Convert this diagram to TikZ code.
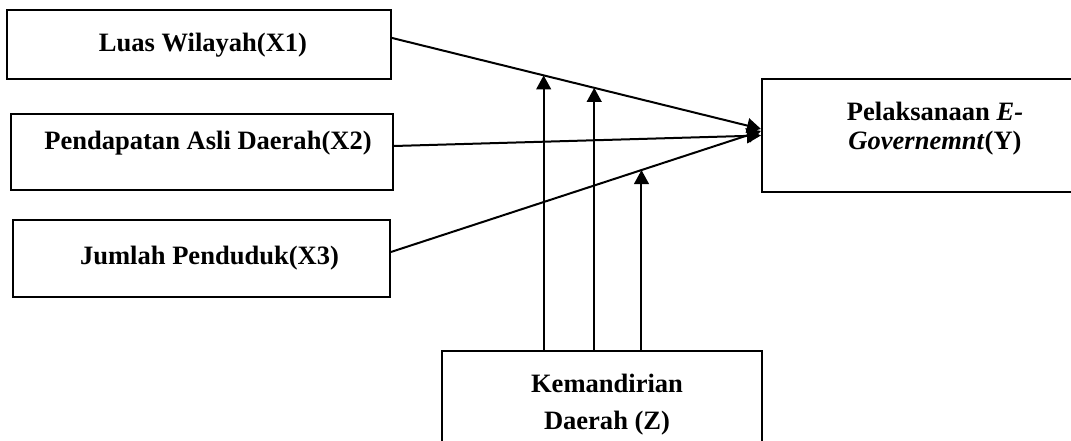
\documentclass[tikz,border=0pt]{standalone}
\usepackage{fontspec}
\setmainfont{Liberation Serif}
\usetikzlibrary{arrows.meta,calc}
\begin{document}
\begin{tikzpicture}[x=0.75pt,y=-0.75pt,
  box/.style={draw, line width=1.5pt, inner sep=0pt},
  lbl/.style={font=\fontsize{19.9}{22}\selectfont\bfseries, align=center, inner sep=0pt},
  arr/.style={line width=1.5pt, -{Triangle[length=10.5pt,width=11pt]}}]
\useasboundingbox (0,0) rectangle (1071,441);
\clip (0,0) rectangle (1071,441);
% boxes
\node[box, minimum width=288pt, minimum height=51.75pt] (X1) at (199,44.5) {};
\node[box, minimum width=286.5pt, minimum height=57pt] (X2) at (202,152) {};
\node[box, minimum width=282.75pt, minimum height=57.75pt] (X3) at (201.5,258.5) {};
\node[box, minimum width=259.5pt, minimum height=84.75pt] (Y) at (935,135.5) {};
\node[box, minimum width=240pt, minimum height=78pt] (Z) at (602,403) {};
% texts
\node[lbl] (tX1) at (203,45) {Luas Wilayah(X1)};
\node[lbl] (tX2) at (208,143) {Pendapatan Asli Daerah(X2)};
\node[lbl] (tX3) at (209.5,258) {Jumlah Penduduk(X3)};
\node[lbl, font=\fontsize{19.9}{21.75}\selectfont\bfseries] (tY) at (935,128.5) {Pelaksanaan \textit{E-}\\\textit{Governemnt}(Y)};
\node[lbl, font=\fontsize{19.9}{27.75}\selectfont\bfseries] (tZ) at (607,404.5) {Kemandirian\\Daerah (Z)};
% connector end points
\coordinate (s1) at ([yshift=4.9pt]X1.east);
\coordinate (e1) at ([yshift=4.9pt]Y.west);
\coordinate (s2) at ([yshift=4.5pt]X2.east);
\coordinate (e2) at ([yshift=0pt]Y.west);
\coordinate (s3) at ([yshift=4.9pt]X3.east);
\coordinate (e3) at ([yshift=3.4pt]Y.west);
\draw[arr] (s1) -- (e1);
\draw[arr] (s2) -- (e2);
\draw[arr] (s3) -- (e3);
% moderation arrows
\coordinate (m1) at ($(s1)!0.411!(e1)$);
\coordinate (m2) at ($(s1)!0.548!(e1)$);
\coordinate (m3) at ($(s3)!0.677!(e3)$);
\draw[arr] (m1 |- Z.north) -- (m1);
\draw[arr] (m2 |- Z.north) -- (m2);
\draw[arr] (m3 |- Z.north) -- (m3);
\end{tikzpicture}
\end{document}
